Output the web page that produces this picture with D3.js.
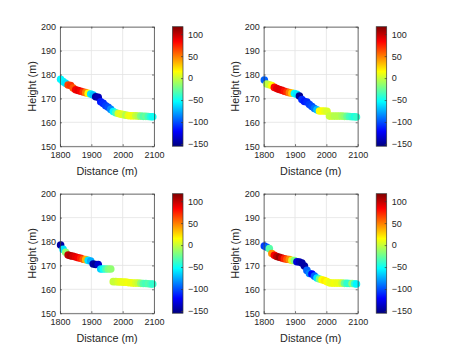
<!DOCTYPE html>
<html>
<head>
<meta charset="utf-8">
<script src="https://cdn.jsdelivr.net/npm/d3@7"></script>
<style>
  body { margin: 0; background: #fff; }
  text { font-family: "Liberation Sans", Arial, Helvetica, sans-serif; fill: #262626; }
</style>
</head>
<body>
<div id="chart"></div>
<script>
// profile sample positions (m)
var distance = [1802, 1810, 1818, 1826, 1834, 1842, 1850, 1858, 1866, 1874,
                1882, 1890, 1898, 1906, 1914, 1922, 1930, 1938, 1946, 1954,
                1962, 1970, 1978, 1986, 1994, 2002, 2010, 2018, 2026, 2034,
                2042, 2050, 2058, 2066, 2074, 2082, 2090, 2096];

// heights (m) for the four panels
var heightA = [178.0, 177.0, 176.3, 175.6, 175.4, 174.3, 173.6, 173.3, 173.0, 172.7,
               172.4, 172.1, 171.8, 171.4, 170.7, 170.5, 168.6, 167.9, 166.9, 166.3,
               165.4, 164.5, 164.0, 163.7, 163.4, 163.2, 163.0, 162.8, 162.7, 162.7,
               162.7, 162.6, 162.6, 162.5, 162.5, 162.4, 162.3, 162.3];
var heightB = [177.7, 176.0, 175.7, 175.4, 174.6, 174.1, 173.7, 173.4, 173.0, 172.7,
               172.4, 172.2, 172.0, 171.7, 171.0, 169.5, 168.7, 168.5, 167.4, 166.6,
               165.8, 165.2, 164.7, 164.7, 164.7, 164.6, 162.6, 162.6, 162.6, 162.6,
               162.6, 162.6, 162.5, 162.5, 162.4, 162.3, 162.3, 162.2];
var heightC = [178.5, 176.7, 175.5, 174.3, 174.0, 173.8, 173.5, 173.2, 173.0, 172.6,
               172.4, 172.1, 171.8, 170.6, 170.4, 170.4, 168.5, 168.5, 168.5, 168.5,
               168.5, 163.2, 163.2, 163.1, 163.1, 163.0, 163.0, 162.8, 162.7, 162.6,
               162.6, 162.6, 162.5, 162.4, 162.4, 162.3, 162.2, 162.2];
var heightD = [178.1, 177.6, 177.0, 175.0, 174.2, 173.7, 173.4, 173.1, 172.8, 172.6,
               172.5, 172.1, 172.0, 171.5, 171.4, 171.0, 169.7, 167.9, 166.6, 166.4,
               165.5, 164.7, 164.3, 164.0, 163.7, 163.2, 162.7, 162.6, 162.6, 162.6,
               162.6, 162.6, 162.5, 162.5, 162.4, 162.4, 162.3, 162.2];

// colour values for the four panels
var valueA = [-55, -55, -60, 65, 70, 60, 85, 90, 85, 70,
              50, 15, -60, -70, -145, -140, -115, -110, -105, -100,
              -85, -55, -35, 5, 10, 5, -5, 10, 12, 10,
              0, -5, -20, -30, -25, -35, -45, -50];
var valueB = [-95, -5, 0, 15, 80, 90, 92, 90, 80, 70,
              50, 30, -55, -60, -150, -110, -115, -110, -105, -100,
              -90, -70, 15, 15, 10, 5, 0, 0, -5, -5,
              -5, -10, -15, -25, -35, -40, -45, -40];
var valueC = [-145, -60, -15, 100, 105, 95, 90, 85, 75, 60,
              35, -60, -75, -145, -150, -135, -65, -50, -35, -20,
              -15, 0, 0, 5, 8, 10, 10, 12, 10, 10,
              5, 0, -15, -30, -35, -30, -35, -40];
var valueD = [-105, -95, -30, 45, 85, 100, 110, 95, 75, 60,
              45, 5, -20, -130, -140, -145, -145, -95, -85, -120,
              -95, -60, -20, 15, 20, 15, 10, 10, 12, 10,
              10, 0, -25, -40, -40, -15, -40, -55];

var xTicks = [1800, 1900, 2000, 2100];
var yTicks = [150, 160, 170, 180, 190, 200];
var cTicks = [-150, -100, -50, 0, 50, 100];
var cRange = [-155, 117];

var WIDTH = 463, HEIGHT = 354;

var svg = d3.select('#chart').append('svg')
            .attr('width', WIDTH)
            .attr('height', HEIGHT);

// jet colormap
var jetStops = [0, 0.125, 0.375, 0.625, 0.875, 1];
var jetColors = ['#000080', '#0000ff', '#00ffff', '#ffff00', '#ff0000', '#800000'];
var color = d3.scaleLinear()
              .domain(jetStops.map(function(t) { return cRange[0] + t * (cRange[1] - cRange[0]); }))
              .range(jetColors)
              .interpolate(d3.interpolateRgb)
              .clamp(true);

var defs = svg.append('defs');
var grad = defs.append('linearGradient')
               .attr('id', 'jet')
               .attr('x1', 0).attr('y1', 1).attr('x2', 0).attr('y2', 0);
grad.selectAll('stop')
    .data(jetStops)
    .enter()
    .append('stop')
    .attr('offset', function(d) { return d * 100 + '%'; })
    .attr('stop-color', function(d, i) { return jetColors[i]; });

var panels = [
  { left: 60,    top: 26.7,  h: heightA, v: valueA },
  { left: 263.7, top: 26.7,  h: heightB, v: valueB },
  { left: 60,    top: 193.7, h: heightC, v: valueC },
  { left: 263.7, top: 193.7, h: heightD, v: valueD }
];

var plotW = 94, plotH = 119.5;
var fmt = d3.format('d');

panels.forEach(function(p) {
  var g = svg.append('g').attr('transform', 'translate(' + p.left + ',' + p.top + ')');

  var x = d3.scaleLinear().domain([1800, 2100]).range([0, plotW]);
  var y = d3.scaleLinear().domain([150, 200]).range([plotH, 0]);

  // grid
  g.selectAll('.vgrid')
   .data(xTicks)
   .enter()
   .append('line')
   .attr('x1', function(d) { return x(d); })
   .attr('x2', function(d) { return x(d); })
   .attr('y1', 0).attr('y2', plotH)
   .attr('stroke', '#e3e3e3').attr('stroke-width', 0.8);
  g.selectAll('.hgrid')
   .data(yTicks)
   .enter()
   .append('line')
   .attr('y1', function(d) { return y(d); })
   .attr('y2', function(d) { return y(d); })
   .attr('x1', 0).attr('x2', plotW)
   .attr('stroke', '#e3e3e3').attr('stroke-width', 0.8);

  // points
  var pts = distance.map(function(d, i) { return { d: d, h: p.h[i], v: p.v[i] }; });
  g.selectAll('circle')
   .data(pts)
   .enter()
   .append('circle')
   .attr('cx', function(d) { return x(d.d); })
   .attr('cy', function(d) { return y(d.h); })
   .attr('r', 3.8)
   .attr('fill', function(d) { return color(d.v); });

  // axes (ticks point inward, box on)
  g.append('g').attr('transform', 'translate(0,' + plotH + ')')
   .call(d3.axisBottom(x).tickValues(xTicks).tickFormat(fmt).tickSizeInner(-2).tickSizeOuter(0).tickPadding(5));
  g.append('g')
   .call(d3.axisLeft(y).tickValues(yTicks).tickFormat(fmt).tickSizeInner(-2).tickSizeOuter(0).tickPadding(4));
  g.append('g').call(d3.axisTop(x).tickValues(xTicks).tickSizeInner(-2).tickSizeOuter(0).tickFormat(''));
  g.append('g').attr('transform', 'translate(' + plotW + ',0)')
   .call(d3.axisRight(y).tickValues(yTicks).tickSizeInner(-2).tickSizeOuter(0).tickFormat(''));

  g.selectAll('.domain, .tick line').attr('stroke', '#3a3a3a').attr('stroke-width', 0.7);
  g.selectAll('.tick text').attr('font-size', 9).attr('fill', '#262626')
   .attr('font-family', '"Liberation Sans", Arial, sans-serif');

  // labels
  g.append('text')
   .attr('x', plotW / 2)
   .attr('y', plotH + 29)
   .attr('text-anchor', 'middle')
   .attr('font-size', 10.8)
   .text('Distance (m)');
  g.append('text')
   .attr('transform', 'translate(-28,' + plotH / 2 + ') rotate(-90)')
   .attr('dy', '0.35em')
   .attr('text-anchor', 'middle')
   .attr('font-size', 10.8)
   .text('Height (m)');

  // colorbar
  var cb = g.append('g').attr('transform', 'translate(' + (plotW + 18.5) + ',0)');
  var cy = d3.scaleLinear().domain(cRange).range([plotH, 0]);
  cb.append('rect')
    .attr('width', 10.5).attr('height', plotH)
    .attr('fill', 'url(#jet)');
  cb.append('g').attr('transform', 'translate(10.5,0)')
    .call(d3.axisRight(cy).tickValues(cTicks).tickSizeInner(-2).tickSizeOuter(0).tickPadding(5));
  cb.selectAll('.domain').remove();
  cb.selectAll('.tick line').attr('stroke', '#3a3a3a').attr('stroke-width', 0.7);
  cb.selectAll('.tick text').attr('font-size', 9).attr('fill', '#262626')
    .attr('font-family', '"Liberation Sans", Arial, sans-serif');
  cb.append('rect')
    .attr('width', 10.5).attr('height', plotH)
    .attr('fill', 'none')
    .attr('stroke', '#3a3a3a').attr('stroke-width', 0.7);
});
</script>
</body>
</html>
